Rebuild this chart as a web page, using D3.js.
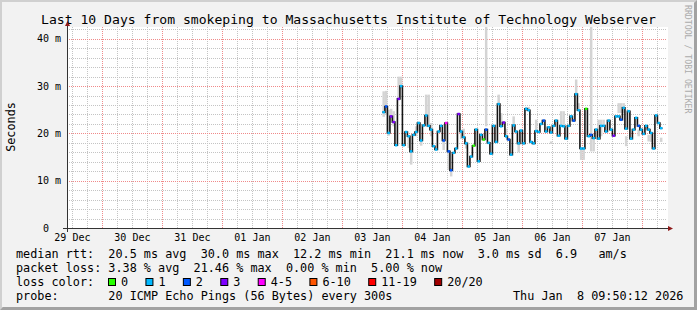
<!DOCTYPE html>
<html>
<head>
<meta charset="utf-8">
<script src="https://d3js.org/d3.v7.min.js"></script>
<style>
body { margin:0; background:#f2f2f2; }
svg text { font-family: "DejaVu Sans Mono", monospace; white-space: pre; fill: #000; }
</style>
</head>
<body>
<svg id="chart" width="697" height="310"></svg>
<script>
// ---- data ----
var rangeStart = Date.UTC(2025, 11, 29, 9, 50);
var rangeEnd = Date.UTC(2026, 0, 8, 9, 50);
var firstStep = Date.UTC(2026, 0, 3, 16, 0);   // hourly consolidated steps
var stepMs = 3600 * 1000;

// median rtt per step (ms)
var median = [24.5, 25.7, 20.1, 23.6, 22.4, 17.5, 27.3, 30.0, 17.5, 20.3,
  19.4, 16.2, 19.7, 20.3, 22.2, 18.5, 21.7, 23.8, 21.6, 20.8,
  17.3, 16.6, 20.4, 21.6, 18.5, 22.2, 16.2, 12.2, 15.9, 16.8,
  24.1, 20.4, 19.2, 17.9, 13.0, 15.1, 17.4, 20.8, 14.1, 19.7,
  18.7, 20.8, 18.0, 15.7, 21.6, 18.2, 26.2, 21.5, 22.3, 19.4,
  18.7, 15.5, 21.7, 20.4, 17.9, 20.6, 17.9, 25.2, 24.9, 18.2,
  17.9, 20.5, 20.3, 22.0, 22.7, 20.4, 21.3, 20.2, 21.6, 22.7,
  19.5, 21.6, 21.5, 18.9, 21.6, 23.6, 22.7, 28.3, 24.9, 16.8,
  16.8, 25.2, 19.4, 19.7, 19.0, 20.8, 18.9, 21.6, 21.6, 20.4,
  22.7, 20.8, 19.5, 23.6, 23.6, 22.9, 25.4, 21.0, 24.7, 18.9,
  20.8, 23.3, 21.6, 20.8, 19.9, 21.6, 20.8, 20.1, 16.8, 23.8,
  22.2, 21.1];

// lost pings (of 20) per step
var loss = [1, 2, 1, 3, 3, 1, 3, 1, 1, 1,
  1, 1, 1, 1, 1, 1, 1, 1, 1, 1,
  1, 1, 1, 1, 2, 4, 2, 2, 1, 1,
  3, 1, 1, 1, 1, 1, 0, 1, 1, 1,
  0, 2, 1, 1, 1, 1, 1, 1, 3, 1,
  2, 1, 1, 1, 1, 1, 1, 1, 1, 1,
  1, 1, 1, 1, 2, 1, 1, 1, 1, 1,
  1, 1, 1, 1, 1, 1, 2, 1, 1, 1,
  1, 0, 1, 2, 1, 1, 1, 1, 1, 1,
  1, 1, 3, 1, 1, 2, 1, 1, 1, 1,
  1, 1, 2, 1, 1, 1, 1, 1, 1, 1,
  1, 1];

// smoke spread: [step number, low ms, high ms]
var smoke = [[1, 23.5, 28.9], [2, 24.0, 29.0], [3, 19.5, 25.0], [4, 22.2, 25.2], [5, 21.5, 24.7],
  [7, 27.1, 32.0], [8, 29.5, 32.0], [11, 16.9, 19.4], [12, 13.4, 16.5], [14, 19.4, 21.5],
  [15, 20.4, 22.5], [16, 17.4, 18.5], [18, 23.6, 28.2], [19, 21.5, 28.2], [20, 19.4, 22.2],
  [25, 16.5, 18.7], [27, 12.3, 15.9], [28, 10.9, 12.7], [32, 18.8, 20.8], [33, 18.8, 21.0],
  [34, 16.8, 18.3], [42, 21.5, 45.0], [47, 26.2, 28.2], [48, 21.5, 24.3], [50, 19.0, 21.0],
  [53, 21.7, 23.6], [55, 16.0, 17.8], [58, 24.7, 25.6], [59, 24.7, 25.6], [62, 20.4, 22.9],
  [68, 17.8, 18.3], [72, 21.8, 24.7], [73, 21.5, 24.7], [78, 28.3, 31.4], [79, 24.9, 26.4],
  [80, 14.4, 16.8], [81, 14.4, 16.8], [84, 16.2, 45.0], [85, 16.2, 19.0], [87, 19.4, 22.9],
  [88, 19.4, 22.9], [89, 21.6, 22.9], [95, 24.3, 26.4], [96, 24.3, 26.4], [97, 24.3, 26.4],
  [98, 17.3, 19.4], [103, 19.4, 20.8], [106, 20.8, 21.8], [107, 18.3, 19.7], [108, 18.2, 20.1],
  [112, 18.2, 19.1]];

var yMajor = [0, 10, 20, 30, 40];
var yLabels = ["0  ", "10 m", "20 m", "30 m", "40 m"];
var lossNames = ["0", "1", "2", "3", "4-5", "6-10", "11-19", "20/20"];
var lossColors = ["#26ff00", "#00b8ff", "#0059ff", "#7e00ff", "#ff00ff", "#ff5500", "#ff0000", "#a10000"];

var title = "Last 10 Days from smokeping to Massachusetts Institute of Technology Webserver";
var line1 = "median rtt:  20.5 ms avg  30.0 ms max  12.2 ms min  21.1 ms now  3.0 ms sd  6.9   am/s";
var line2 = "packet loss: 3.38 % avg  21.46 % max  0.00 % min  5.00 % now";
var line4 = "probe:       20 ICMP Echo Pings (56 Bytes) every 300s";
var stamp = "Thu Jan  8 09:50:12 2026";

// ---- drawing ----
var W = 697, H = 310;
var L = 67, R = 667, T = 27, B = 228;
var svg = d3.select("#chart");

// frame + background
svg.append("rect").attr("width", W).attr("height", H).attr("fill", "#a2a2a2");
svg.append("path").attr("d", "M0,0H" + W + "L" + (W - 3) + ",3H3V" + (H - 3) + "L0," + H + "Z").attr("fill", "#d0d0d0");
svg.append("rect").attr("x", 2).attr("y", 2).attr("width", W - 5).attr("height", H - 5).attr("fill", "#f2f2f2");
svg.append("rect").attr("x", L).attr("y", T).attr("width", R - L + 1).attr("height", B - T).attr("fill", "#fff");

var x = d3.scaleUtc().domain([rangeStart, rangeEnd]).range([L, R]);
var y = d3.scaleLinear().domain([0, 42.5]).range([B, T]);

svg.append("clipPath").attr("id", "plot").append("rect")
  .attr("x", L).attr("y", T).attr("width", R - L + 1).attr("height", B - T);

var px = function(v) { return Math.round(v) + 0.5; };
var grid = svg.append("g");

// minor grid: 6h / 2 ms
var hours = d3.utcHour.every(6).range(new Date(rangeStart), new Date(rangeEnd)).filter(function(d) { return d.getUTCHours() != 0; });
grid.selectAll(".vmin").data(hours).enter().append("line")
  .attr("x1", function(d) { return px(x(d)); }).attr("x2", function(d) { return px(x(d)); })
  .attr("y1", T).attr("y2", B)
  .attr("stroke", "#c4c4c4").attr("stroke-dasharray", "1,1");
var ms = d3.range(2, 43, 2).filter(function(d) { return d % 10 != 0; });
grid.selectAll(".hmin").data(ms).enter().append("line")
  .attr("y1", function(d) { return px(y(d)); }).attr("y2", function(d) { return px(y(d)); })
  .attr("x1", L).attr("x2", R)
  .attr("stroke", "#c4c4c4").attr("stroke-dasharray", "1,1");

// major grid: days / 10 ms
var days = d3.utcDay.range(new Date(rangeStart), new Date(rangeEnd));
grid.selectAll(".vmaj").data(days).enter().append("line")
  .attr("x1", function(d) { return px(x(d)); }).attr("x2", function(d) { return px(x(d)); })
  .attr("y1", T).attr("y2", B)
  .attr("stroke", "#f08a8a").attr("stroke-dasharray", "1,1");
grid.selectAll(".hmaj").data(yMajor.slice(1)).enter().append("line")
  .attr("y1", function(d) { return px(y(d)); }).attr("y2", function(d) { return px(y(d)); })
  .attr("x1", L).attr("x2", R)
  .attr("stroke", "#f08a8a").attr("stroke-dasharray", "1,1");

// smoke
var tOf = function(i) { return firstStep + i * stepMs; };
svg.append("g").attr("clip-path", "url(#plot)")
  .selectAll("rect").data(smoke).enter().append("rect")
  .attr("x", function(d) { return x(tOf(d[0] - 1)); })
  .attr("width", function(d) { return x(tOf(d[0])) - x(tOf(d[0] - 1)); })
  .attr("y", function(d) { return y(d[2]); })
  .attr("height", function(d) { return y(d[1]) - y(d[2]); })
  .attr("fill", "#d4d4d4");

// median line (stairs)
var pts = median.map(function(v, i) { return [tOf(i), v]; });
pts.push([tOf(median.length), median[median.length - 1]]);
var stair = d3.line().x(function(d) { return x(d[0]); }).y(function(d) { return y(d[1]); }).curve(d3.curveStepAfter);
svg.append("path").attr("d", stair(pts)).attr("fill", "none").attr("stroke", "#141414").attr("stroke-width", 1.6);

// loss-coloured median marks
var lossIdx = function(n) { return n <= 3 ? n : n <= 5 ? 4 : n <= 10 ? 5 : n <= 19 ? 6 : 7; };
svg.append("g").selectAll("line").data(median).enter().append("line")
  .attr("x1", function(d, i) { return x(tOf(i)); })
  .attr("x2", function(d, i) { return x(tOf(i + 1)); })
  .attr("y1", function(d) { return y(d); }).attr("y2", function(d) { return y(d); })
  .attr("stroke", function(d, i) { return lossColors[lossIdx(loss[i])]; })
  .attr("stroke-width", 2.5);

// axes
svg.append("line").attr("x1", L - 4).attr("x2", R + 2).attr("y1", B + 0.5).attr("y2", B + 0.5).attr("stroke", "#333");
svg.append("line").attr("x1", L + 0.5).attr("x2", L + 0.5).attr("y1", B + 4).attr("y2", T - 2).attr("stroke", "#333");
svg.append("path").attr("d", "M" + (L + 0.5) + "," + (T - 6) + "l-2.5,5h5z").attr("fill", "#8e1a1a");
svg.append("path").attr("d", "M" + (R + 6) + "," + (B + 0.5) + "l-5,-2.5v5z").attr("fill", "#8e1a1a");

// y labels
svg.append("g").selectAll("text").data(yMajor).enter().append("text")
  .attr("x", 61).attr("y", function(d) { return y(d) + 3.5; })
  .attr("text-anchor", "end").style("font-size", "10px")
  .text(function(d, i) { return yLabels[i]; });

// x labels at noon, only those inside the range
var noon = [new Date(Date.UTC(2025, 11, 29, 12))].concat(days.map(function(d) { return new Date(+d + 12 * stepMs); }))
  .filter(function(d) { return +d <= rangeEnd; });
svg.append("g").selectAll("text").data(noon).enter().append("text")
  .attr("x", function(d) { return x(d); }).attr("y", 241)
  .attr("text-anchor", "middle").style("font-size", "10px")
  .text(function(d) { return d3.utcFormat("%d %b")(d); });

// titles
svg.append("text").attr("x", 348.5).attr("y", 24).attr("text-anchor", "middle")
  .style("font-size", "13.1px").text(title);
svg.append("text").attr("transform", "translate(15,127) rotate(-90)").attr("text-anchor", "middle")
  .style("font-size", "11.8px").text("Seconds");
svg.append("text").attr("transform", "translate(685,5) rotate(90)")
  .style("font-size", "8.2px").style("fill", "#ababab").text("RRDTOOL / TOBI OETIKER");

// legend
var lg = svg.append("g").style("font-size", "11.8px");
lg.append("text").attr("x", 16).attr("y", 257.8).text(line1);
lg.append("text").attr("x", 16).attr("y", 271.7).text(line2);
lg.append("text").attr("x", 16).attr("y", 285.6).text("loss color:");
lg.append("text").attr("x", 16).attr("y", 299.5).text(line4);
lg.append("text").attr("x", 513).attr("y", 299.5).text(stamp);

var bx = 108;
lossNames.forEach(function(n, i) {
  lg.append("rect").attr("x", bx + 0.5).attr("y", 278.5).attr("width", 7).attr("height", 7)
    .attr("fill", lossColors[i]).attr("stroke", "#000");
  lg.append("text").attr("x", bx + 13).attr("y", 285.6).text(n);
  bx += 13 + n.length * 7.13 + 17.3;
});
</script>
</body>
</html>
